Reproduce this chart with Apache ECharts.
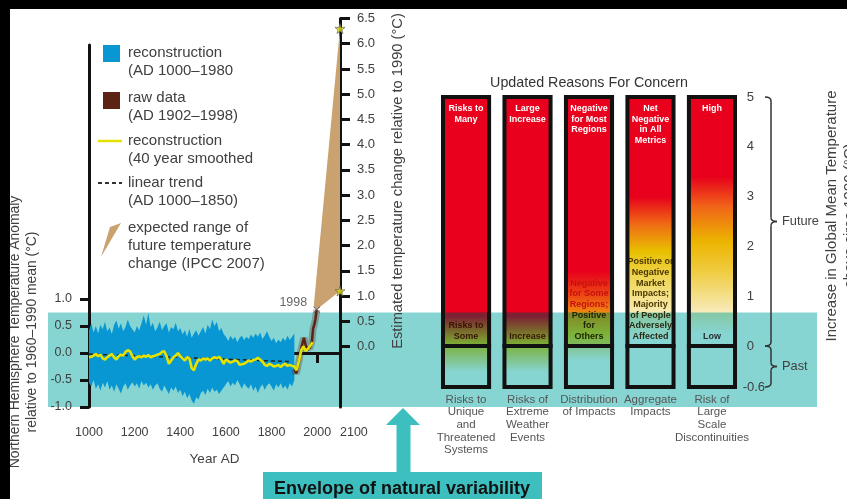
<!DOCTYPE html>
<html>
<head>
<meta charset="utf-8">
<script src="https://cdn.jsdelivr.net/npm/echarts@6/dist/echarts.min.js"></script>
<style>
  html, body { margin: 0; padding: 0; background: #fff; }
  #c { width: 847px; height: 499px; }
</style>
</head>
<body>
<div id="c"></div>
<script>
// ---------- Millennial reconstruction (°C, relative to 1960–1990 mean) ----------
const reconYears = [
  1000, 1010, 1020, 1030, 1040, 1050, 1060, 1070, 1080, 1090,
  1100, 1110, 1120, 1130, 1140, 1150, 1160, 1170, 1180, 1190,
  1200, 1210, 1220, 1230, 1240, 1250, 1260, 1270, 1280, 1290,
  1300, 1310, 1320, 1330, 1340, 1350, 1360, 1370, 1380, 1390,
  1400, 1410, 1420, 1430, 1440, 1450, 1460, 1470, 1480, 1490,
  1500, 1510, 1520, 1530, 1540, 1550, 1560, 1570, 1580, 1590,
  1600, 1610, 1620, 1630, 1640, 1650, 1660, 1670, 1680, 1690,
  1700, 1710, 1720, 1730, 1740, 1750, 1760, 1770, 1780, 1790,
  1800, 1810, 1820, 1830, 1840, 1850, 1860, 1870, 1880, 1890,
  1900
];
const reconUpper = [
  0.42, 0.55, 0.38, 0.50, 0.36, 0.52, 0.44, 0.58, 0.40, 0.47,
  0.35, 0.52, 0.60, 0.45, 0.55, 0.40, 0.48, 0.62, 0.50, 0.44,
  0.38, 0.50, 0.42, 0.55, 0.70, 0.52, 0.74, 0.48, 0.56, 0.40,
  0.47, 0.58, 0.42, 0.50, 0.55, 0.38, 0.48, 0.44, 0.56, 0.40,
  0.46, 0.34, 0.42, 0.30, 0.45, 0.28, 0.36, 0.42, 0.32, 0.40,
  0.48, 0.36, 0.52, 0.44, 0.62, 0.50, 0.58, 0.40, 0.46, 0.35,
  0.30, 0.22, 0.32, 0.25, 0.30, 0.20, 0.28, 0.32, 0.24, 0.30,
  0.26, 0.34, 0.28, 0.36, 0.30, 0.38, 0.26, 0.32, 0.40, 0.30,
  0.22, 0.28, 0.18, 0.25, 0.20, 0.28, 0.22, 0.32, 0.24, 0.30,
  0.36
];
const reconLower = [
  -0.55, -0.62, -0.50, -0.66, -0.58, -0.70, -0.55, -0.64, -0.52, -0.68,
  -0.60, -0.72, -0.58, -0.66, -0.75, -0.62, -0.56, -0.68, -0.60, -0.54,
  -0.62, -0.56, -0.66, -0.52, -0.60, -0.55, -0.64, -0.58, -0.68, -0.60,
  -0.56, -0.66, -0.72, -0.60, -0.68, -0.76, -0.64, -0.70, -0.62, -0.74,
  -0.68, -0.80, -0.72, -0.84, -0.76, -0.88, -0.94, -0.82, -0.86, -0.74,
  -0.70, -0.78, -0.66, -0.74, -0.64, -0.72, -0.68, -0.76, -0.70, -0.64,
  -0.58, -0.52, -0.62, -0.55, -0.60, -0.50, -0.58, -0.66, -0.56, -0.62,
  -0.66, -0.58, -0.70, -0.62, -0.74, -0.64, -0.58, -0.68, -0.60, -0.56,
  -0.62, -0.70, -0.58, -0.64, -0.56, -0.66, -0.60, -0.68, -0.56, -0.62,
  -0.50
];

// 40-year smoothed reconstruction
const smoothYears = [
  1000, 1010, 1020, 1030, 1040, 1050, 1060, 1070, 1080, 1090,
  1100, 1110, 1120, 1130, 1140, 1150, 1160, 1170, 1180, 1190,
  1200, 1210, 1220, 1230, 1240, 1250, 1260, 1270, 1280, 1290,
  1300, 1310, 1320, 1330, 1340, 1350, 1360, 1370, 1380, 1390,
  1400, 1410, 1420, 1430, 1440, 1450, 1460, 1470, 1480, 1490,
  1500, 1510, 1520, 1530, 1540, 1550, 1560, 1570, 1580, 1590,
  1600, 1610, 1620, 1630, 1640, 1650, 1660, 1670, 1680, 1690,
  1700, 1710, 1720, 1730, 1740, 1750, 1760, 1770, 1780, 1790,
  1800, 1810, 1820, 1830, 1840, 1850, 1860, 1870, 1880, 1890,
  1900, 1910, 1920, 1930, 1940, 1950, 1960, 1970, 1980
];
const smoothValues = [
  -0.08, -0.07, -0.05, -0.02, -0.06, -0.03, -0.10, -0.12, -0.08, -0.05,
  -0.02, -0.08, -0.12, -0.06, -0.03, -0.05, 0.02, 0.05, 0.03, -0.06,
  -0.12, -0.08, -0.06, -0.08, -0.05, -0.07, -0.04, -0.08, -0.06, -0.05,
  -0.03, -0.02, 0.02, 0.03, -0.06, -0.20, -0.14, -0.08, -0.05, 0.00,
  -0.06, -0.10, -0.14, -0.08, -0.10, -0.28, -0.32, -0.20, -0.12, -0.14,
  -0.10, -0.12, -0.10, -0.14, -0.10, -0.08, -0.10, -0.07, -0.12, -0.20,
  -0.12, -0.15, -0.18, -0.16, -0.14, -0.15, -0.22, -0.21, -0.20, -0.17,
  -0.14, -0.16, -0.13, -0.12, -0.09, -0.12, -0.16, -0.22, -0.24, -0.20,
  -0.22, -0.25, -0.24, -0.22, -0.26, -0.22, -0.20, -0.24, -0.22, -0.24,
  -0.25, -0.32, -0.15, 0.05, 0.12, 0.04, 0.08, 0.14, 0.20
];

// Linear trend (AD 1000–1850)
const trendYears = [1000, 1880];
const trendValues = [-0.02, -0.16];

// Instrumental raw data (AD 1902–1998)
const rawYears = [1902, 1907, 1912, 1917, 1922, 1927, 1932, 1937, 1942, 1947,
                  1952, 1957, 1962, 1967, 1972, 1977, 1982, 1987, 1992, 1995, 1998];
const rawValues = [-0.30, -0.38, -0.32, -0.22, -0.12, 0.02, 0.12, 0.20, 0.28, 0.25,
                   0.10, 0.05, 0.12, 0.08, 0.15, 0.22, 0.45, 0.52, 0.62, 0.60, 0.80];
const rawMarkYear = 1998;

// Expected range of future change (°C relative to 1990), IPCC 2007
const rangeUpper = [[1985, 0.8], [2100, 6.3]];
const rangeLower = [[1998, 0.73], [2100, 1.1]];
const rangeEnds = [[2100, 6.3], [2100, 1.1]];

// Envelope of natural variability, on the anomaly axis
const envelope = [-1.0, 0.75];

// Axis ticks
const yearTicks = [1000, 1200, 1400, 1600, 1800, 2000, 2100];
const anomalyTicks = [-1.0, -0.5, 0.0, 0.5, 1.0];
const changeTicks = [0.0, 0.5, 1.0, 1.5, 2.0, 2.5, 3.0, 3.5, 4.0, 4.5, 5.0, 5.5, 6.0, 6.5];

// ---------- Updated Reasons For Concern ----------
const concernCategories = [
  'Risks to\nUnique\nand\nThreatened\nSystems',
  'Risks of\nExtreme\nWeather\nEvents',
  'Distribution\nof Impacts',
  'Aggregate\nImpacts',
  'Risk of\nLarge\nScale\nDiscontinuities'
];
const futureTop = [5, 5, 5, 5, 5];
const pastBottom = [-0.6, -0.6, -0.6, -0.6, -0.6];
const riskTicks = [0, 1, 2, 3, 4, 5];
const pastTicks = [-0.6];
const highRiskLabels = ['Risks to\nMany', 'Large\nIncrease', 'Negative\nfor Most\nRegions', 'Net\nNegative\nin All\nMetrics', 'High'];
const lowRiskLabels = [
  ['Risks to', 'Some'],
  ['Increase'],
  ['Negative', 'for Some', 'Regions;', 'Positive', 'for', 'Others'],
  ['Positive or', 'Negative', 'Market', 'Impacts;', 'Majority', 'of People', 'Adversely', 'Affected'],
  ['Low']
];

// Colour ramps along each column, as [temperature, colour]
const RED = '#e8001c';
const futureShade = [
  [[5, RED], [0.6, RED], [0.3, '#e06a12'], [0, '#e8d41e']],
  [[5, RED], [0.6, RED], [0.3, '#e06a12'], [0, '#e8d41e']],
  [[5, RED], [1.5, RED], [1.0, '#ec4a14'], [0.55, '#f0a010'], [0.25, '#e8cc20'], [0, '#eedc60']],
  [[5, RED], [3.0, RED], [2.45, '#ef6a14'], [1.9, '#e8c000'], [1.3, '#f0d860'], [0.7, '#f8eab0'], [0.15, '#ffffff'], [0, '#ffffff']],
  [[5, RED], [3.4, RED], [2.8, '#f06418'], [2.1, '#ecb400'], [1.5, '#f0cc40'], [0.8, '#f6e6a8'], [0.25, '#ffffff'], [0, '#ffffff']]
];
const pastShade = [
  [[0, '#e6d030'], [-0.15, '#eee080'], [-0.38, '#ffffff'], [-0.6, '#ffffff']],
  [[0, '#e6d030'], [-0.15, '#eee080'], [-0.38, '#ffffff'], [-0.6, '#ffffff']],
  [[0, '#f0e8a0'], [-0.22, '#ffffff'], [-0.6, '#ffffff']],
  [[0, '#ffffff'], [-0.6, '#ffffff']],
  [[0, '#ffffff'], [-0.6, '#ffffff']]
];
const lowLabelColors = [
  ['#3a1206', '#3a1206'],
  ['#3a1206'],
  ['#c8100c', '#c8100c', '#c8100c', '#1e2400', '#1e2400', '#1e2400'],
  ['#4a3800', '#4a3800', '#4a3800', '#4a3800', '#4a3800', '#2a2a10', '#2a2a10', '#2a2a10'],
  ['#2a3030']
];

// ---------- styling ----------
const FONT = '"Liberation Sans", Arial, Helvetica, sans-serif';
const TXT = '#404040';
const BAND = '#87d5d2';
const TEAL = '#3dbfbf';
const BLUE = '#0897d3';
const YELLOW = '#e6e200';
const BROWN = '#5c2214';
const TAN = '#c9a26f';
const STAR = 'path://M50,0L61,35L98,35L68,57L79,91L50,70L21,91L32,57L2,35L39,35Z';
const CROSS = 'path://M0,1L1,0L5,4L9,0L10,1L6,5L10,9L9,10L5,6L1,10L0,9L4,5Z';

let bandPx = null;   // pixel extent of the natural-variability band
let bracePx = null;  // pixel positions of 5, 0, -0.6 on the concern scale

// colour seen through the translucent band: multiply with the band tint,
// eased a little toward the tint itself (white stays exactly the band colour)
function tinted(hex) {
  const c = hex.replace('#', '');
  const b = BAND.replace('#', '');
  const ch = k => {
    const bc = parseInt(b.substr(k, 2), 16);
    const m = parseInt(c.substr(k, 2), 16) * bc / 255;
    return Math.round(m * 0.85 + bc * 0.15);
  };
  return 'rgb(' + ch(0) + ',' + ch(2) + ',' + ch(4) + ')';
}

function columnRenderer(kind) {
  return function (params, api) {
    const i = api.value(0);
    const v = api.value(1);
    const a = api.coord([i, 0]);
    const b = api.coord([i, v]);
    const w = api.size([1, 0])[0] * 0.75;
    const x = a[0] - w / 2;
    const top = Math.min(a[1], b[1]);
    const bot = Math.max(a[1], b[1]);
    const h = bot - top;
    const hi = kind === 'future' ? v : 0;
    const lo = kind === 'future' ? 0 : v;
    const ramp = (kind === 'future' ? futureShade : pastShade)[i];
    const stops = ramp.map(s => ({ offset: (hi - s[0]) / (hi - lo), color: s[1] }));
    const grad = new echarts.graphic.LinearGradient(0, top, 0, bot, stops, true);
    const children = [{ type: 'rect', shape: { x: x, y: top, width: w, height: h }, style: { fill: grad } }];
    if (bandPx) {
      const y1 = Math.max(top, bandPx.top);
      const y2 = Math.min(bot, bandPx.bottom);
      if (y2 > y1) {
        const tint = new echarts.graphic.LinearGradient(0, top, 0, bot,
          stops.map(s => ({ offset: s.offset, color: tinted(s.color) })), true);
        children.push({ type: 'rect', shape: { x: x, y: y1, width: w, height: y2 - y1 }, style: { fill: tint } });
      }
    }
    if (kind === 'future') {
      children.push({
        type: 'text',
        style: {
          text: highRiskLabels[i], x: a[0], y: top + 6, align: 'center', verticalAlign: 'top',
          fill: '#fff', fontFamily: FONT, fontWeight: 'bold', fontSize: 9, lineHeight: 10.7
        }
      });
      const rich = {};
      const parts = lowRiskLabels[i].map((line, k) => {
        rich['l' + k] = { fill: lowLabelColors[i][k], fontFamily: FONT, fontWeight: 'bold', fontSize: 9, lineHeight: 10.7 };
        return '{l' + k + '|' + line + '}';
      });
      children.push({
        type: 'text',
        style: {
          text: parts.join('\n'), rich: rich, x: a[0], y: bot - 4, align: 'center', verticalAlign: 'bottom',
          fontFamily: FONT, fontWeight: 'bold', fontSize: 9, lineHeight: 10.7
        }
      });
    }
    children.push({ type: 'rect', shape: { x: x, y: top, width: w, height: h }, style: { fill: 'none', stroke: '#111', lineWidth: 4 } });
    return { type: 'group', children: children };
  };
}

// curly brace opening to the right, built from lines and quadratic curves
function brace(x, y1, y2) {
  const ym = (y1 + y2) / 2, r = 4, t = 6, hk = 6;
  const st = { fill: 'none', stroke: '#333', lineWidth: 1.5 };
  const q = (x1, yy1, cx, cy, x2, yy2) => ({ type: 'bezierCurve', z: 50, shape: { x1: x1, y1: yy1, cpx1: cx, cpy1: cy, x2: x2, y2: yy2 }, style: st });
  const l = (x1, yy1, x2, yy2) => ({ type: 'line', z: 50, shape: { x1: x1, y1: yy1, x2: x2, y2: yy2 }, style: st });
  return [
    q(x - hk, y1, x, y1, x, y1 + r),
    l(x, y1 + r, x, ym - r),
    q(x, ym - r, x, ym, x + t, ym),
    q(x + t, ym, x, ym, x, ym + r),
    l(x, ym + r, x, y2 - r),
    q(x, y2 - r, x, y2, x - hk, y2)
  ];
}

function legendText(y, text) {
  return { type: 'text', x: 128, y: y, z: 50,
    style: { text: text, fill: TXT, font: '15px ' + FONT, lineHeight: 18, verticalAlign: 'top' } };
}

function buildGraphic() {
  let g = [];
  if (bandPx) {
    g.push({ type: 'rect', z: 0, shape: { x: 48, y: bandPx.top, width: 817 - 48, height: bandPx.bottom - bandPx.top }, style: { fill: BAND } });
    const tipY = bandPx.bottom + 1;
    g.push({ type: 'polygon', z: 50, shape: { points: [[403, tipY], [420, tipY + 17], [410.5, tipY + 17], [410.5, 473], [396.5, 473], [396.5, tipY + 17], [386, tipY + 17]] }, style: { fill: TEAL } });
  }
  g.push({ type: 'rect', z: 50, shape: { x: 263, y: 472, width: 279, height: 40 }, style: { fill: TEAL } });
  g.push({ type: 'text', z: 51, x: 402, y: 489, style: { text: 'Envelope of natural variability', fill: '#111', font: 'bold 18px ' + FONT, align: 'center', verticalAlign: 'middle' } });

  // legend
  g.push({ type: 'rect', z: 50, shape: { x: 103, y: 45, width: 17, height: 17 }, style: { fill: BLUE } });
  g.push(legendText(44, 'reconstruction\n(AD 1000–1980'));
  g.push({ type: 'rect', z: 50, shape: { x: 103, y: 92, width: 17, height: 17 }, style: { fill: BROWN } });
  g.push(legendText(89, 'raw data\n(AD 1902–1998)'));
  g.push({ type: 'line', z: 50, shape: { x1: 98, y1: 141, x2: 122, y2: 141 }, style: { stroke: YELLOW, lineWidth: 2.5 } });
  g.push(legendText(132, 'reconstruction\n(40 year smoothed'));
  g.push({ type: 'line', z: 50, shape: { x1: 98, y1: 183, x2: 122, y2: 183 }, style: { stroke: '#333', lineWidth: 2, lineDash: [4, 3] } });
  g.push(legendText(174, 'linear trend\n(AD 1000–1850)'));
  g.push({ type: 'polygon', z: 50, shape: { points: [[110, 227], [121, 223], [101, 257]] }, style: { fill: TAN } });
  g.push(legendText(219, 'expected range of\nfuture temperature\nchange (IPCC 2007)'));

  // axis titles
  g.push({ type: 'text', z: 50, x: 24, y: 332, rotation: Math.PI / 2,
    style: { text: 'Northern Hemisphere Temperature Anomaly\nrelative to 1960–1990 mean (°C)', fill: TXT, font: '13.9px ' + FONT, lineHeight: 17, align: 'center', verticalAlign: 'middle' } });
  g.push({ type: 'text', z: 50, x: 398, y: 181, rotation: Math.PI / 2,
    style: { text: 'Estimated temperature change relative to 1990 (°C)', fill: TXT, font: '14.7px ' + FONT, align: 'center', verticalAlign: 'middle' } });
  g.push({ type: 'text', z: 50, x: 589, y: 83,
    style: { text: 'Updated Reasons For Concern', fill: '#333', font: '14.3px ' + FONT, align: 'center', verticalAlign: 'middle' } });
  g.push({ type: 'text', z: 50, x: 841, y: 216, rotation: Math.PI / 2,
    style: { text: 'Increase in Global Mean Temperature\nabove circa 1990 (°C)', fill: TXT, font: '15px ' + FONT, lineHeight: 18, align: 'center', verticalAlign: 'middle' } });

  if (bracePx) {
    g = g.concat(brace(771, bracePx.top, bracePx.zero), brace(771, bracePx.zero, bracePx.past));
    g.push({ type: 'text', z: 50, x: 782, y: (bracePx.top + bracePx.zero) / 2, style: { text: 'Future', fill: TXT, font: '12.8px ' + FONT, verticalAlign: 'middle' } });
    g.push({ type: 'text', z: 50, x: 782, y: (bracePx.zero + bracePx.past) / 2, style: { text: 'Past', fill: TXT, font: '12.8px ' + FONT, verticalAlign: 'middle' } });
  }

  // frame strips
  g.push({ type: 'rect', z: 200, shape: { x: 0, y: 0, width: 847, height: 9 }, style: { fill: '#000' } });
  g.push({ type: 'rect', z: 200, shape: { x: 0, y: 0, width: 10, height: 499 }, style: { fill: '#000' } });
  return g;
}

function buildOption() {
  const axisLabelStyle = { color: TXT, fontFamily: FONT };
  const rawPoints = rawYears.map((y, i) => [y, rawValues[i]]);
  return {
    animation: false,
    backgroundColor: '#fff',
    grid: [
      { left: 89, top: 45, width: 251, height: 362 },
      { left: 89, top: 18.5, width: 251, height: 388.5 },
      { left: 435.3, top: 97, width: 307.4, height: 249 },
      { left: 435.3, top: 346, width: 307.4, height: 41 }
    ],
    xAxis: [
      {
        gridIndex: 0, type: 'value', min: 1000, max: 2100,
        name: 'Year AD', nameLocation: 'middle', nameGap: 45,
        nameTextStyle: { color: TXT, fontFamily: FONT, fontSize: 13.5 },
        axisLine: { lineStyle: { color: '#111', width: 3 } },
        axisTick: { customValues: yearTicks, length: 10, lineStyle: { color: '#111', width: 3 } },
        axisLabel: Object.assign({ customValues: yearTicks, fontSize: 12.5, margin: 19, hideOverlap: false,
          alignMaxLabel: 'left', formatter: v => String(v) }, axisLabelStyle),
        splitLine: { show: false }
      },
      { gridIndex: 1, type: 'value', min: 1000, max: 2100, show: false },
      { gridIndex: 2, type: 'category', data: concernCategories, show: false },
      {
        gridIndex: 3, type: 'category', data: concernCategories,
        axisLine: { show: false }, axisTick: { show: false },
        axisLabel: { fontSize: 11.5, lineHeight: 12.7, margin: 6, interval: 0, color: '#555', fontFamily: FONT }
      }
    ],
    yAxis: [
      {
        gridIndex: 0, type: 'value', min: -1, max: 5.7,
        axisLine: { show: true, lineStyle: { color: '#111', width: 3 } },
        axisTick: { show: true, customValues: anomalyTicks, length: 9, lineStyle: { color: '#111', width: 3 } },
        axisLabel: Object.assign({ customValues: anomalyTicks, fontSize: 12.5, margin: 17, formatter: v => v.toFixed(1) }, axisLabelStyle),
        splitLine: { show: false }
      },
      {
        gridIndex: 1, type: 'value', position: 'right', min: -1.2, max: 6.5,
        axisLine: { show: true, lineStyle: { color: '#111', width: 3 } },
        axisTick: { show: true, customValues: changeTicks, length: 10, lineStyle: { color: '#111', width: 3 } },
        axisLabel: Object.assign({ customValues: changeTicks, fontSize: 13, margin: 17, formatter: v => v.toFixed(1) }, axisLabelStyle),
        splitLine: { show: false }
      },
      {
        gridIndex: 2, type: 'value', position: 'right', min: 0, max: 5,
        axisLine: { show: false }, axisTick: { show: false },
        axisLabel: Object.assign({ customValues: riskTicks, fontSize: 13, margin: 4 }, axisLabelStyle),
        splitLine: { show: false }
      },
      {
        gridIndex: 3, type: 'value', position: 'right', min: -0.6, max: 0,
        axisLine: { show: false }, axisTick: { show: false },
        axisLabel: Object.assign({ customValues: pastTicks, fontSize: 13, margin: 0, formatter: v => v.toFixed(1) }, axisLabelStyle),
        splitLine: { show: false }
      }
    ],
    graphic: buildGraphic(),
    series: [
      {
        name: 'reconstruction (AD 1000–1980)', type: 'custom', xAxisIndex: 0, yAxisIndex: 0, z: 3,
        data: reconYears.map((y, i) => [y, reconLower[i], reconUpper[i]]),
        encode: { x: 0, y: [1, 2] },
        renderItem: function (params, api) {
          if (params.dataIndex !== 0) return null;
          const pts = [];
          for (let i = 0; i < reconYears.length; i++) pts.push(api.coord([reconYears[i], reconUpper[i]]));
          for (let i = reconYears.length - 1; i >= 0; i--) pts.push(api.coord([reconYears[i], reconLower[i]]));
          return { type: 'polygon', shape: { points: pts }, style: { fill: BLUE } };
        }
      },
      {
        name: 'expected range of future temperature change (IPCC 2007)', type: 'custom', xAxisIndex: 1, yAxisIndex: 1, z: 2,
        data: rangeUpper.concat(rangeLower.slice().reverse()),
        renderItem: function (params, api) {
          if (params.dataIndex !== 0) return null;
          const pts = rangeUpper.concat(rangeLower.slice().reverse()).map(p => api.coord(p));
          return { type: 'polygon', shape: { points: pts }, style: { fill: TAN } };
        }
      },
      {
        name: 'linear trend (AD 1000–1850)', type: 'line', xAxisIndex: 0, yAxisIndex: 0, z: 4,
        data: trendYears.map((y, i) => [y, trendValues[i]]), symbol: 'none',
        lineStyle: { color: '#222', width: 1.5, type: [4, 3] }
      },
      {
        // soft halo of the instrumental series
        type: 'line', xAxisIndex: 0, yAxisIndex: 0, z: 4,
        data: rawPoints, symbol: 'none',
        lineStyle: { color: BROWN, width: 7, opacity: 0.3 }
      },
      {
        name: 'raw data (AD 1902–1998)', type: 'line', xAxisIndex: 0, yAxisIndex: 0, z: 5,
        data: rawPoints, symbol: 'none',
        lineStyle: { color: BROWN, width: 2.5 }
      },
      {
        name: 'reconstruction (40 year smoothed', type: 'line', xAxisIndex: 0, yAxisIndex: 0, z: 6,
        data: smoothYears.map((y, i) => [y, smoothValues[i]]), symbol: 'none',
        lineStyle: { color: YELLOW, width: 2.6 }
      },
      {
        type: 'scatter', xAxisIndex: 0, yAxisIndex: 0, z: 7,
        data: [[rawMarkYear, rawValues[rawValues.length - 1]]],
        symbol: CROSS, symbolSize: 7, itemStyle: { color: '#555' },
        label: { show: true, formatter: String(rawMarkYear), position: 'left', distance: 6, offset: [0, -7], color: TXT, fontFamily: FONT, fontSize: 12.5 }
      },
      {
        type: 'scatter', xAxisIndex: 1, yAxisIndex: 1, z: 8,
        data: rangeEnds, symbol: STAR, symbolSize: 10,
        itemStyle: { color: YELLOW, borderColor: '#555', borderWidth: 0.8 }
      },
      {
        type: 'custom', xAxisIndex: 2, yAxisIndex: 2, z: 3,
        data: futureTop.map((v, i) => [i, v]),
        renderItem: columnRenderer('future')
      },
      {
        type: 'custom', xAxisIndex: 3, yAxisIndex: 3, z: 3,
        data: pastBottom.map((v, i) => [i, v]),
        renderItem: columnRenderer('past')
      }
    ]
  };
}

const chart = echarts.init(document.getElementById('c'), null, { renderer: 'canvas' });
chart.setOption(buildOption());

// second pass: place the band, the tinted overlays and the braces from the axis scales
bandPx = {
  top: chart.convertToPixel({ yAxisIndex: 0 }, envelope[1]),
  bottom: chart.convertToPixel({ yAxisIndex: 0 }, envelope[0])
};
bracePx = {
  top: chart.convertToPixel({ yAxisIndex: 2 }, riskTicks[riskTicks.length - 1]),
  zero: chart.convertToPixel({ yAxisIndex: 2 }, 0),
  past: chart.convertToPixel({ yAxisIndex: 3 }, pastTicks[0])
};
chart.setOption(buildOption(), { notMerge: true });
</script>
</body>
</html>
